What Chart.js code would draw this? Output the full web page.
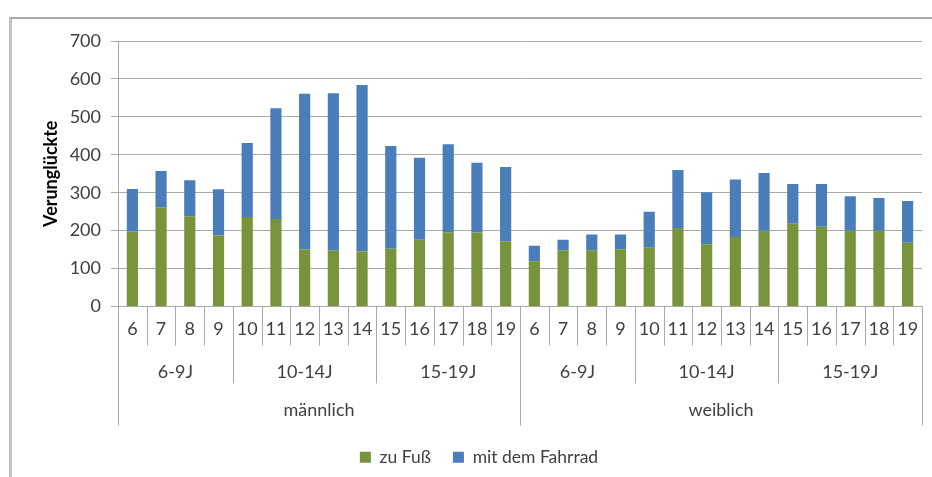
<!DOCTYPE html>
<html>
<head>
<meta charset="utf-8">
<script src="https://cdn.jsdelivr.net/npm/chart.js@4.4.1/dist/chart.umd.min.js"></script>
<style>
  html, body { margin: 0; padding: 0; background: #ffffff; }
  #wrap { position: relative; width: 932px; height: 477px; overflow: hidden; }
  #frame { position: absolute; left: 9px; top: 17px; width: 940px; height: 480px;
           border-left: 3px solid #c4c4c4; border-top: 2px solid #a8a8a8; box-sizing: border-box; }
  canvas { position: absolute; left: 0; top: 0; }
</style>
</head>
<body>
<div id="wrap">
  <div id="frame"></div>
  <canvas id="c" width="932" height="477"></canvas>
</div>
<script>
// ---- Data ----
const ageLabels = ['6','7','8','9','10','11','12','13','14','15','16','17','18','19',
                   '6','7','8','9','10','11','12','13','14','15','16','17','18','19'];
const ageGroups = ['6-9J','10-14J','15-19J','6-9J','10-14J','15-19J'];
const ageGroupSizes = [4, 5, 5, 4, 5, 5];
const genders = ['männlich', 'weiblich'];
const genderSizes = [14, 14];
const zuFuss = [198, 262, 238, 187, 236, 231, 150, 148, 145, 152, 176, 196, 195, 172,
                119, 148, 148, 150, 155, 207, 164, 183, 200, 218, 210, 200, 200, 168];
const mitFahrrad = [112, 95, 95, 122, 195, 292, 411, 414, 439, 271, 216, 232, 184, 196,
                    41, 28, 42, 40, 95, 153, 137, 152, 152, 105, 113, 91, 86, 110];
const yTicks = [0, 100, 200, 300, 400, 500, 600, 700];

const GREEN = '#77933C';
const BLUE = '#4A7EBB';
const TEXT = '#404040';
const LINE = '#aaaaaa';
const FONT = 'Lato';

const multiLevel = {
  id: 'multiLevel',
  afterDraw(chart) {
    const x = chart.scales.x;
    const ctx = chart.ctx;
    const base = chart.chartArea.bottom;
    const half = (x.getPixelForValue(1) - x.getPixelForValue(0)) / 2;
    const edge = i => x.getPixelForValue(i) - half; // left edge of category i
    const groupBounds = new Set();
    let acc = 0; groupBounds.add(0);
    ageGroupSizes.forEach(s => { acc += s; groupBounds.add(acc); });
    const genderBounds = new Set();
    acc = 0; genderBounds.add(0);
    genderSizes.forEach(s => { acc += s; genderBounds.add(acc); });

    ctx.save();
    ctx.strokeStyle = LINE;
    ctx.lineWidth = 1;
    for (let i = 0; i <= ageLabels.length; i++) {
      let len = 39;
      if (groupBounds.has(i)) len = 77;
      if (genderBounds.has(i)) len = 119;
      const px = Math.round(edge(i)) + 0.5;
      ctx.beginPath();
      ctx.moveTo(px, base);
      ctx.lineTo(px, base + len);
      ctx.stroke();
    }
    ctx.fillStyle = TEXT;
    ctx.textAlign = 'center';
    ctx.textBaseline = 'middle';
    ctx.font = '18px ' + FONT;
    acc = 0;
    ageGroups.forEach((g, k) => {
      const a = edge(acc), b = edge(acc + ageGroupSizes[k]);
      ctx.fillText(g, (a + b) / 2, base + 66);
      acc += ageGroupSizes[k];
    });
    acc = 0;
    genders.forEach((g, k) => {
      const a = edge(acc), b = edge(acc + genderSizes[k]);
      ctx.fillText(g, (a + b) / 2, base + 104);
      acc += genderSizes[k];
    });
    ctx.restore();
  }
};

new Chart(document.getElementById('c'), {
  type: 'bar',
  data: {
    labels: ageLabels,
    datasets: [
      { label: 'zu Fuß', data: zuFuss, backgroundColor: GREEN, barPercentage: 0.39, categoryPercentage: 1 },
      { label: 'mit dem Fahrrad', data: mitFahrrad, backgroundColor: BLUE, barPercentage: 0.39, categoryPercentage: 1 }
    ]
  },
  options: {
    responsive: false,
    animation: false,
    layout: { padding: { left: 36, right: 10, top: 41, bottom: 1 } },
    plugins: {
      legend: {
        position: 'bottom',
        labels: {
          boxWidth: 11, boxHeight: 11, padding: 22,
          color: TEXT, font: { family: FONT, size: 17.5 }
        }
      },
      tooltip: { enabled: false }
    },
    scales: {
      x: {
        stacked: true,
        offset: true,
        grid: { display: true, drawOnChartArea: false, drawTicks: false, color: LINE },
        border: { display: true, color: LINE },
        ticks: { color: TEXT, font: { family: FONT, size: 18 }, padding: 12, maxRotation: 0, autoSkip: false },
        afterFit(scale) { scale.height = 120; }
      },
      y: {
        stacked: true,
        min: 0, max: 700,
        afterBuildTicks(scale) { scale.ticks = yTicks.map(v => ({ value: v })); },
        grid: { color: LINE, tickLength: 7, tickColor: LINE },
        border: { display: true, color: LINE },
        ticks: { color: TEXT, font: { family: FONT, size: 18 }, padding: 10 },
        title: { display: true, text: 'Verunglückte', color: '#000', font: { family: FONT, size: 18, weight: 'bold' }, padding: { top: 4, bottom: 4 } },
        afterFit(scale) { scale.width = 82; }
      }
    }
  },
  plugins: [multiLevel]
});
</script>
</body>
</html>
